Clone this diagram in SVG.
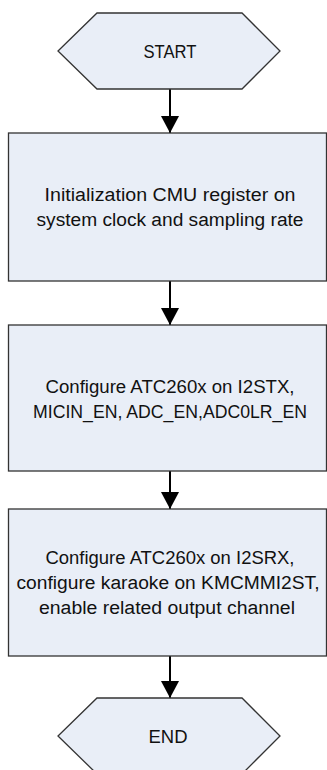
<svg xmlns="http://www.w3.org/2000/svg" width="327" height="770" viewBox="0 0 327 770">
<style>
.shape{fill:#e9eef7;stroke:#333;stroke-width:1.3}
.t{font-family:"Liberation Sans",Arial,sans-serif;font-size:18px;fill:#111;text-anchor:middle}
.c{stroke:#000;stroke-width:2;fill:none}
</style>
<defs>
<marker id="ah" markerUnits="userSpaceOnUse" markerWidth="18" markerHeight="18" viewBox="0 0 18 18" refX="17" refY="9" orient="auto">
<path d="M0,0 L17,9 L0,18 Z" fill="#000"/>
</marker>
</defs>
<rect width="327" height="770" fill="#fff"/>
<g id="connectors">
<line class="c" x1="170" y1="89" x2="170" y2="133" marker-end="url(#ah)"/>
<line class="c" x1="170" y1="281" x2="170" y2="325" marker-end="url(#ah)"/>
<line class="c" x1="170" y1="471" x2="170" y2="509" marker-end="url(#ah)"/>
<line class="c" x1="170" y1="656" x2="170" y2="698" marker-end="url(#ah)"/>
</g>
<g id="start">
<polygon class="shape" points="97,13 242,13 280,51 242,89 97,89 58,51"/>
<text class="t" x="170" y="57.5" textLength="53" lengthAdjust="spacingAndGlyphs">START</text>
</g>
<g id="init">
<rect class="shape" x="8.5" y="133" width="318" height="148"/>
<text class="t" x="170" y="201" textLength="251" lengthAdjust="spacingAndGlyphs">Initialization CMU register on</text>
<text class="t" x="170" y="226" textLength="267" lengthAdjust="spacingAndGlyphs">system clock and sampling rate</text>
</g>
<g id="cfg-tx">
<rect class="shape" x="8.5" y="325" width="318" height="146"/>
<text class="t" x="170" y="393" textLength="249" lengthAdjust="spacingAndGlyphs">Configure ATC260x on I2STX,</text>
<text class="t" x="170" y="418" textLength="274" lengthAdjust="spacingAndGlyphs">MICIN_EN, ADC_EN,ADC0LR_EN</text>
</g>
<g id="cfg-rx">
<rect class="shape" x="8.5" y="509" width="318" height="147"/>
<text class="t" x="170" y="564" textLength="249" lengthAdjust="spacingAndGlyphs">Configure ATC260x on I2SRX,</text>
<text class="t" x="168" y="589" textLength="303" lengthAdjust="spacingAndGlyphs">configure karaoke on KMCMMI2ST,</text>
<text class="t" x="167" y="614" textLength="256" lengthAdjust="spacingAndGlyphs">enable related output channel</text>
</g>
<g id="end">
<polygon class="shape" points="97,698 242,698 280,736 242,774 97,774 58,736"/>
<text class="t" x="168" y="743" textLength="39" lengthAdjust="spacingAndGlyphs">END</text>
</g>
</svg>
